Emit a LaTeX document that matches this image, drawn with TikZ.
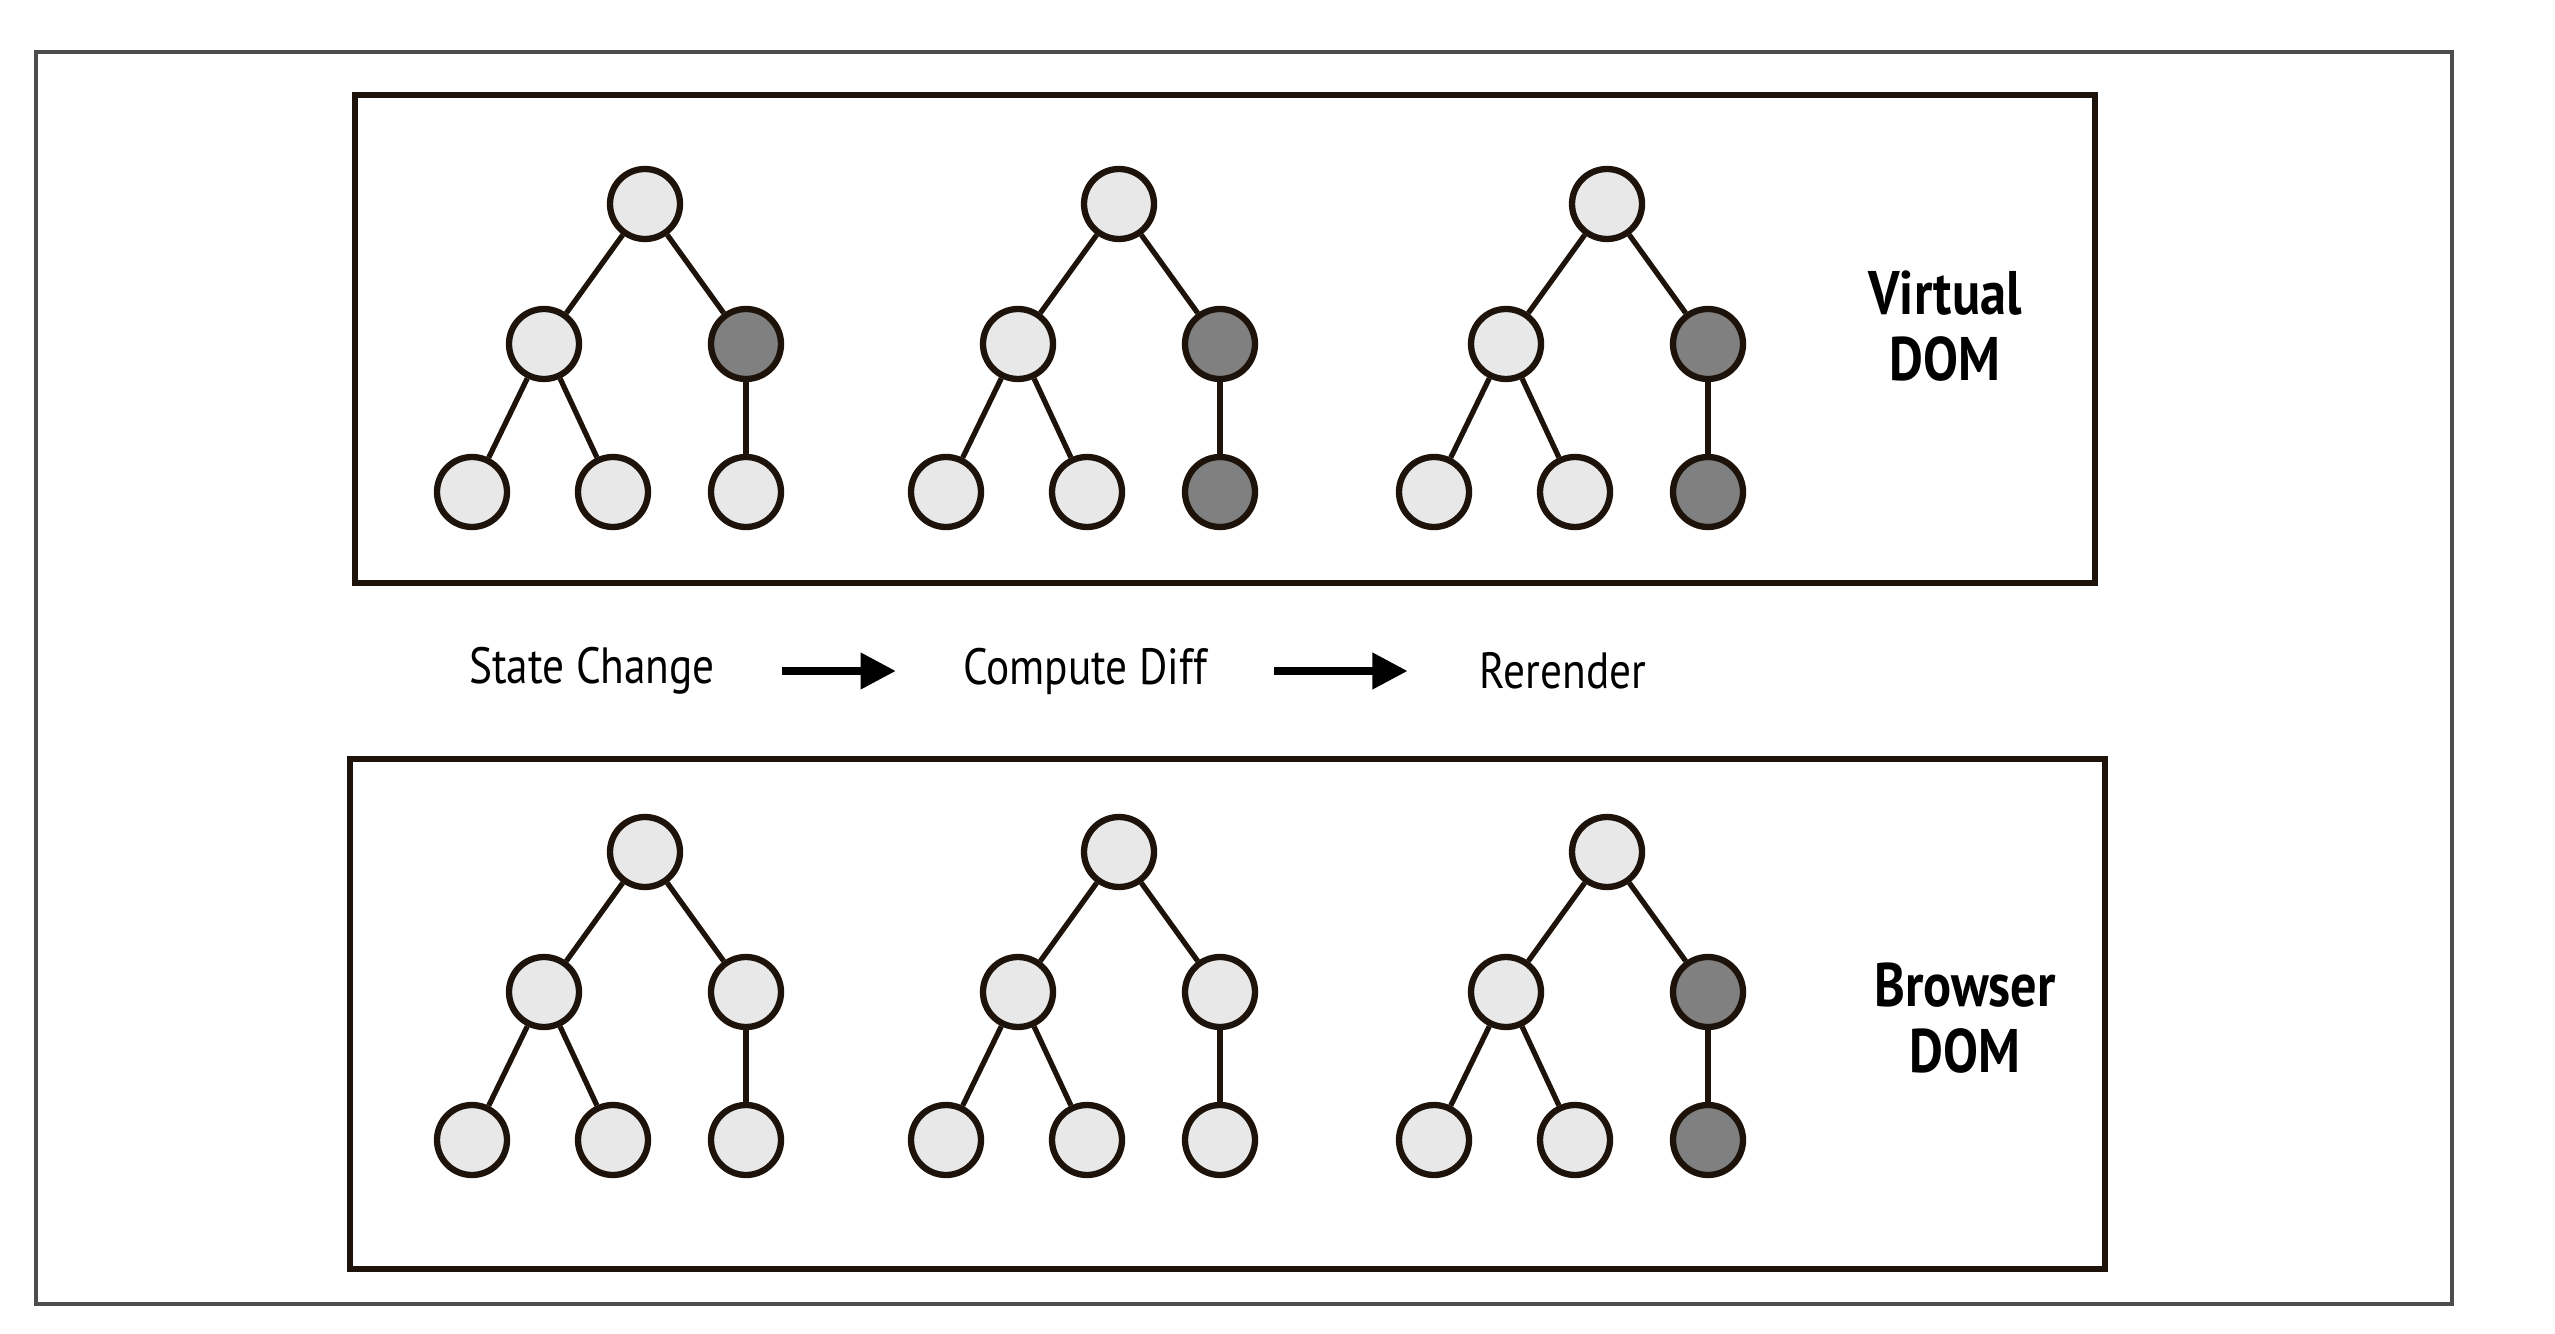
\documentclass[tikz,border=0pt]{standalone}
\usepackage{fontspec}
\setmainfont{PT Sans}
\newfontfamily\stepfont[FakeStretch=0.85]{PT Sans}
\newfontfamily\panelfont[FakeStretch=0.85]{PT Sans Bold}
\usetikzlibrary{arrows.meta}
\colorlet{lightnode}{black!9}
\colorlet{darknode}{black!50}
\colorlet{inkline}{black!85!brown}
\tikzset{
    treenode/.style={circle, draw=inkline, line width=1.8pt,
                     minimum size=0.7cm, inner sep=0pt},
    edge/.style={draw=inkline, line width=1.5pt},
    panel/.style={draw=inkline, line width=1.6pt},
    flow/.style={-{Triangle[length=10pt, width=10pt]}, line width=2pt},
    steplabel/.style={font=\stepfont\fontsize{14.5}{17}\selectfont},
    panellabel/.style={font=\panelfont\fontsize{17.5}{19}\selectfont, align=center},
}

\begin{document}
\begin{tikzpicture}
    \path[use as bounding box] (0,0) rectangle (25.55,13.33);

    % page frame and the two panels
    \draw[black!70, line width=1pt] (0.36,0.29) rectangle (24.52,12.81);
    \draw[panel] (3.55,7.50) rectangle (20.95,12.38);
    \draw[panel] (3.50,0.64) rectangle (21.05,5.74);

    % trees: name / x / y of root / colour of right branch
    \foreach \t/\x/\y/\mr/\rr in {
        va/6.45/11.29/darknode/lightnode,
        vb/11.19/11.29/darknode/darknode,
        vc/16.07/11.29/darknode/darknode,
        ba/6.45/4.81/lightnode/lightnode,
        bb/11.19/4.81/lightnode/lightnode,
        bc/16.07/4.81/darknode/darknode} {
        \node[treenode, fill=lightnode] (\t-root) at (\x,\y) {};
        \node[treenode, fill=lightnode] (\t-ml) at (\x-1.01,\y-1.40) {};
        \node[treenode, fill=\mr] (\t-mr) at (\x+1.01,\y-1.40) {};
        \node[treenode, fill=lightnode] (\t-ll) at (\x-1.73,\y-2.88) {};
        \node[treenode, fill=lightnode] (\t-lm) at (\x-0.32,\y-2.88) {};
        \node[treenode, fill=\rr] (\t-lr) at (\x+1.01,\y-2.88) {};
        \draw[edge] (\t-root) -- (\t-ml);
        \draw[edge] (\t-root) -- (\t-mr);
        \draw[edge] (\t-ml) -- (\t-ll);
        \draw[edge] (\t-ml) -- (\t-lm);
        \draw[edge] (\t-mr) -- (\t-lr);
    }

    \node[panellabel] (virtual) at (19.45,10.07) {Virtual\\DOM};
    \node[panellabel] (browser) at (19.65,3.15) {Browser\\DOM};

    % steps between the panels
    \node[steplabel] (change) at (5.92,6.62) {State Change};
    \node[steplabel] (diff) at (10.85,6.62) {Compute Diff};
    \node[steplabel] (render) at (15.63,6.62) {Rerender};
    \path (change.east) ++(0.55,0) coordinate (a1);
    \path (diff.west) ++(-0.55,0) coordinate (a2);
    \path (diff.east) ++(0.55,0) coordinate (b1);
    \path (render.west) ++(-0.6,0) coordinate (b2);
    \draw[flow] (a1) -- (a2);
    \draw[flow] (b1) -- (b2);
\end{tikzpicture}
\end{document}
